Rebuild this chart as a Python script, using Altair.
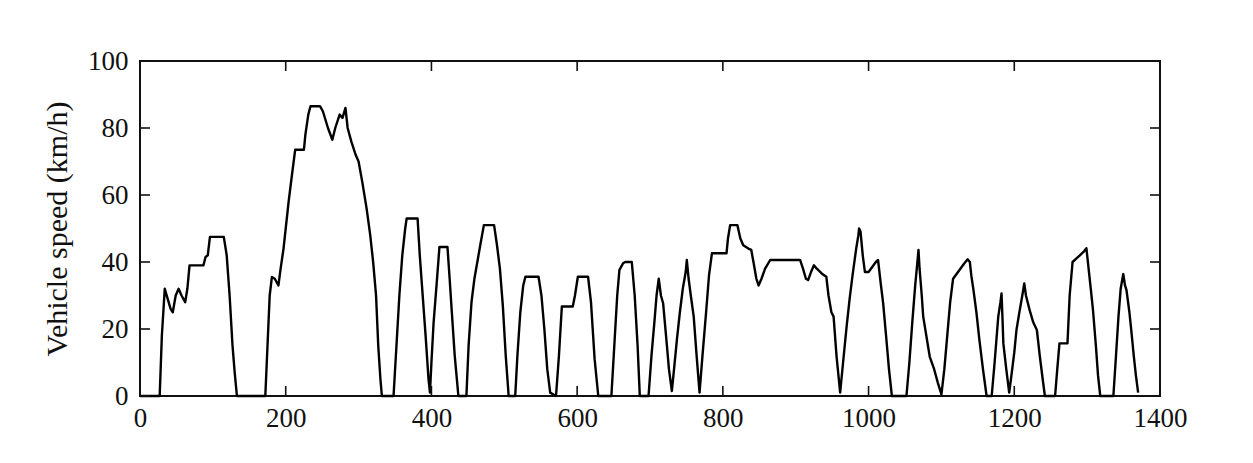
import altair as alt
import pandas as pd

# Drive cycle trace (time in s, speed in km/h)
time_s = [0, 27, 30, 34, 38, 42, 45, 49, 53, 57, 62, 65, 68, 87, 90, 93, 96, 115, 119, 123, 127, 130, 133,
          172, 175, 178, 181, 185, 190, 193, 197, 200, 204, 208, 213, 225, 227, 231, 234, 247, 251, 258, 264,
          268, 274, 278, 282, 285, 290, 296, 300, 305, 311, 316, 320, 324, 327, 330, 332, 348, 352, 356, 360,
          364, 366, 381, 384, 388, 392, 396, 398, 400, 403, 407, 411, 422, 425, 428, 432, 437, 448, 451, 455,
          459, 463, 467, 472, 486, 490, 494, 498, 502, 506, 515, 518, 522, 526, 529, 547, 551, 555, 559, 563,
          571, 575, 579, 594, 597, 601, 615, 619, 624, 629, 647, 651, 655, 658, 663, 666, 675, 679, 683, 686,
          698, 702, 706, 709, 712, 715, 718, 722, 726, 730, 733, 737, 741, 745, 749, 750.5, 753, 756, 760, 764,
          768, 772, 777, 781, 785, 805, 807, 810, 820, 824, 828, 835, 839, 842, 846, 849, 853, 858, 865, 906,
          910, 914, 917, 921, 925, 929, 936, 942, 945, 949, 952, 956, 961, 965, 970, 974, 978, 983, 986, 987,
          989, 992, 995, 1000, 1005, 1010, 1013, 1017, 1020, 1024, 1028, 1032, 1052, 1056, 1060, 1064, 1067,
          1068.5, 1070, 1073, 1075, 1080, 1084, 1090, 1095, 1100, 1104, 1108, 1112, 1116, 1121, 1126, 1131,
          1136, 1139, 1141, 1144, 1148, 1152, 1157, 1162, 1169, 1173, 1178, 1181, 1182.5, 1184, 1185, 1189,
          1193, 1196, 1200, 1203, 1207, 1211, 1213.7, 1216, 1221, 1226, 1231, 1235, 1239, 1242, 1256, 1259,
          1262, 1273, 1276, 1280, 1285, 1290, 1295, 1299, 1302, 1305, 1308, 1312, 1315, 1318, 1336, 1339,
          1343, 1346, 1349.6, 1352, 1354, 1358, 1361, 1364, 1367, 1370]
speed_kmh = [0, 0, 18, 32, 29, 26, 25, 30, 32, 30, 28, 32, 39, 39, 41.5, 42, 47.5, 47.5, 42, 30, 15, 7, 0,
             0, 15, 30, 35.5, 35, 33, 38, 44, 50, 58, 65, 73.5, 73.5, 78, 84, 86.5, 86.5, 85, 80, 76.5,
             80, 84, 83, 86, 80, 76, 72, 70, 64, 56, 48, 40, 30, 15, 5, 0, 0, 15, 30, 42,
             50, 53, 53, 42, 30, 18, 5, 1, 10, 22, 33, 44.5, 44.5, 35, 25, 12, 0, 0, 15, 28,
             35, 40, 45, 51, 51, 45, 38, 27, 12, 0, 0, 12, 25, 33, 35.6, 35.6, 30, 20, 8, 1,
             0, 12, 26.7, 26.7, 30, 35.6, 35.6, 28, 11, 0, 0, 15, 30, 37.6, 39.6, 40, 40, 30, 15, 0,
             0, 12, 22, 30, 35, 30, 27.7, 18, 8, 1.5, 8, 17, 25, 32, 37, 40.6, 35, 30, 23.7, 12,
             1, 12, 25, 36, 42.6, 42.6, 47, 51, 51, 47, 45, 44, 43.6, 40, 35, 33, 35, 38, 40.6, 40.6,
             38, 35, 34.6, 37, 39, 38, 36.5, 35.6, 30, 25, 23.7, 12, 1, 10, 21, 29, 36, 44, 48, 50,
             49, 42, 37, 37, 38.5, 40, 40.6, 33, 27.7, 18, 8, 0, 0, 10, 22, 33, 40,
             43.6, 38, 30, 23.7, 17, 11.7, 8, 4, 0.5, 8, 18, 28, 35, 36.5, 38, 39.5,
             40.8, 40, 36, 31.6, 25, 17, 8, 0, 0, 10, 23.7, 28, 30.6, 22, 15.7, 8,
             1, 6, 13, 19.7, 25, 30, 33.6, 30, 25.7, 22, 19.7, 12, 5, 0, 0, 8,
             15.7, 15.7, 30, 40, 41, 42, 43, 44.1, 38, 32, 25.7, 15, 6, 0, 0, 10,
             23.7, 32, 36.4, 33, 31.6, 25, 18.7, 12, 6, 1]

x_ticks = [0, 200, 400, 600, 800, 1000, 1200, 1400]
y_ticks = [0, 20, 40, 60, 80, 100]

W, H = 1020, 335
TL = 10
FONT = "Liberation Serif"

df = pd.DataFrame({"time": time_s, "speed": speed_kmh})
xt = pd.DataFrame({"time": x_ticks})
yt = pd.DataFrame({"speed": y_ticks})

xscale = alt.Scale(domain=[0, 1400], nice=False, zero=False)
yscale = alt.Scale(domain=[0, 100], nice=False)

xaxis = alt.Axis(values=x_ticks, ticks=False, tickSize=0, domain=False, grid=False,
                 labelFont=FONT, labelFontSize=27, labelColor="#111", labelPadding=9,
                 labelFlush=False, labelOverlap=False, title=None, format="d")
yaxis = alt.Axis(values=y_ticks, ticks=False, tickSize=0, domain=False, grid=False,
                 labelFont=FONT, labelFontSize=27, labelColor="#111", labelPadding=12,
                 labelFlush=False, labelOverlap=False,
                 title="Vehicle speed (km/h)", titleFont=FONT, titleFontSize=30,
                 titleFontWeight="normal", titleColor="#111", titlePadding=15, format="d")

X = alt.X("time:Q", scale=xscale, axis=xaxis)
Y = alt.Y("speed:Q", scale=yscale, axis=yaxis)

line = alt.Chart(df).mark_line(color="black", strokeWidth=2.4, interpolate="linear",
                               strokeJoin="round").encode(x=X, y=Y)

tick_style = dict(color="#111", strokeWidth=1.6)
bottom = alt.Chart(xt).mark_rule(**tick_style).encode(x=X, y=alt.value(H), y2=alt.value(H - TL))
top = alt.Chart(xt).mark_rule(**tick_style).encode(x=X, y=alt.value(0), y2=alt.value(TL))
left = alt.Chart(yt).mark_rule(**tick_style).encode(y=Y, x=alt.value(0), x2=alt.value(TL))
right = alt.Chart(yt).mark_rule(**tick_style).encode(y=Y, x=alt.value(W), x2=alt.value(W - TL))

chart = alt.layer(line, bottom, top, left, right).properties(
    width=W, height=H,
    background="white",
    autosize=alt.AutoSizeParams(type="none"),
    padding={"left": 132, "top": 53, "right": 80, "bottom": 50},
).configure_view(stroke="#111", strokeWidth=2)

chart.save("out.html", embed_options={"renderer": "svg", "actions": False})
